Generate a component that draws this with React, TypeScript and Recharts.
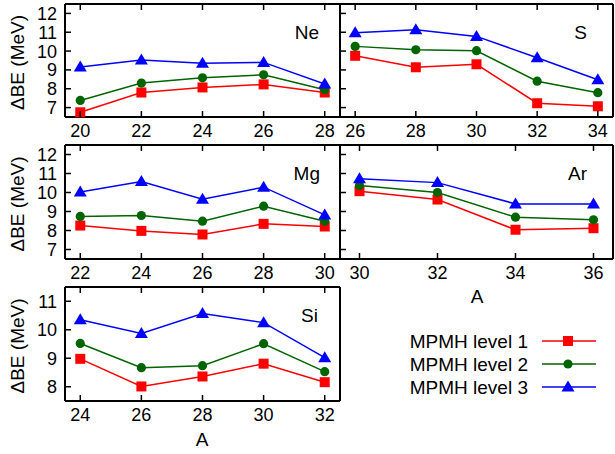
import React from "react";
import { LineChart, Line, XAxis, YAxis } from "recharts";

const W = 615;
const H = 454;
const FONT = "'Liberation Sans', Arial, Helvetica, sans-serif";

// A values and ΔBE (MeV) per MPMH level
const neA = [20, 22, 24, 26, 28];
const neL1 = [6.75, 7.8, 8.07, 8.23, 7.8];
const neL2 = [7.38, 8.3, 8.58, 8.74, 7.95];
const neL3 = [9.15, 9.52, 9.35, 9.4, 8.25];

const sA = [26, 28, 30, 32, 34];
const sL1 = [9.75, 9.14, 9.3, 7.23, 7.07];
const sL2 = [10.25, 10.07, 10.02, 8.4, 7.79];
const sL3 = [10.97, 11.13, 10.78, 9.65, 8.48];

const mgA = [22, 24, 26, 28, 30];
const mgL1 = [8.26, 7.98, 7.79, 8.35, 8.21];
const mgL2 = [8.74, 8.79, 8.49, 9.28, 8.49];
const mgL3 = [10.03, 10.58, 9.65, 10.28, 8.82];

const arA = [30, 32, 34, 36];
const arL1 = [10.07, 9.63, 8.04, 8.12];
const arL2 = [10.37, 10.0, 8.7, 8.56];
const arL3 = [10.73, 10.52, 9.4, 9.4];

const siA = [24, 26, 28, 30, 32];
const siL1 = [8.98, 8.01, 8.36, 8.81, 8.16];
const siL2 = [9.52, 8.67, 8.74, 9.51, 8.53];
const siL3 = [10.35, 9.87, 10.57, 10.25, 9.02];

const yTicksBig = [7, 8, 9, 10, 11, 12];
const yTicksSi = [8, 9, 10, 11];

const levels = ["MPMH level 1", "MPMH level 2", "MPMH level 3"];
const RED = "#ff0000";
const GREEN = "#006400";
const BLUE = "#0000ff";

const rows = (a: number[], l1: number[], l2: number[], l3: number[]) =>
  a.map((v, i) => ({ A: v, l1: l1[i], l2: l2[i], l3: l3[i] }));

interface Panel {
  name: string;
  data: { A: number; l1: number; l2: number; l3: number }[];
  box: [number, number, number, number]; // left, top, right, bottom
  xDomain: [number, number];
  yDomain: [number, number];
  yTicks: number[];
  leftLabels: boolean;
  labelDx: number;
}

const panels: Panel[] = [
  { name: "Ne", data: rows(neA, neL1, neL2, neL3), box: [65, 4, 340, 117], xDomain: [19.5, 28.5], yDomain: [6.5, 12.5], yTicks: yTicksBig, leftLabels: true, labelDx: 21 },
  { name: "S", data: rows(sA, sL1, sL2, sL3), box: [340, 4, 613, 117], xDomain: [25.5, 34.5], yDomain: [6.5, 12.5], yTicks: yTicksBig, leftLabels: false, labelDx: 26 },
  { name: "Mg", data: rows(mgA, mgL1, mgL2, mgL3), box: [65, 145, 340, 259], xDomain: [21.5, 30.5], yDomain: [6.5, 12.5], yTicks: yTicksBig, leftLabels: true, labelDx: 20 },
  { name: "Ar", data: rows(arA, arL1, arL2, arL3), box: [340, 145, 613, 259], xDomain: [29.5, 36.5], yDomain: [6.5, 12.5], yTicks: yTicksBig, leftLabels: false, labelDx: 26 },
  { name: "Si", data: rows(siA, siL1, siL2, siL3), box: [65, 287, 340, 401], xDomain: [23.5, 32.5], yDomain: [7.5, 11.5], yTicks: yTicksSi, leftLabels: true, labelDx: 22 },
];

const txt = { fontFamily: FONT, fontSize: 19, fill: "#000" };
const tickTxt = { fontFamily: FONT, fontSize: 18, fill: "#000" };
const TL = 6;

const BottomTick = (p: any) => (
  <g>
    <line x1={p.x} x2={p.x} y1={p.y} y2={p.y - TL} stroke="#000" strokeWidth={1.5} />
    <text x={p.x} y={p.y + 20} textAnchor="middle" {...tickTxt}>{p.payload.value}</text>
  </g>
);
const TopTick = (p: any) => (
  <line x1={p.x} x2={p.x} y1={p.y} y2={p.y + TL} stroke="#000" strokeWidth={1.5} />
);
const LeftTick = (show: boolean) => (p: any) => (
  <g>
    <line x1={p.x} x2={p.x + TL} y1={p.y} y2={p.y} stroke="#000" strokeWidth={1.5} />
    {show && (
      <text x={p.x - 8} y={p.y + 6.5} textAnchor="end" {...tickTxt}>{p.payload.value}</text>
    )}
  </g>
);
const RightTick = (p: any) => (
  <line x1={p.x} x2={p.x - TL} y1={p.y} y2={p.y} stroke="#000" strokeWidth={1.5} />
);

const Square = (p: any) => (
  <rect key={`s${p.index}`} x={p.cx - 5} y={p.cy - 5} width={10} height={10} fill={RED} />
);
const Circle = (p: any) => (
  <circle key={`c${p.index}`} cx={p.cx} cy={p.cy} r={4.6} fill={GREEN} />
);
const Triangle = (p: any) => (
  <polygon
    key={`t${p.index}`}
    points={`${p.cx},${p.cy - 6.5} ${p.cx - 6.5},${p.cy + 4.5} ${p.cx + 6.5},${p.cy + 4.5}`}
    fill={BLUE}
  />
);

function PanelChart({ panel }: { panel: Panel }) {
  const [l, t, r, b] = panel.box;
  const ticksX = panel.data.map((d) => d.A);
  const axisLine = { stroke: "#000", strokeWidth: 2 };
  return (
    <div style={{ position: "absolute", left: 0, top: 0 }}>
      <LineChart
        width={W}
        height={H}
        data={panel.data}
        margin={{ left: l - 1, top: t - 1, right: W - r - 1, bottom: H - b - 1 }}
      >
        <XAxis type="number" dataKey="A" domain={panel.xDomain} ticks={ticksX} height={1}
          tickSize={0} tickMargin={0} interval={0} axisLine={axisLine} tick={BottomTick} />
        <XAxis xAxisId="top" orientation="top" type="number" dataKey="A" domain={panel.xDomain}
          ticks={ticksX} height={1} tickSize={0} tickMargin={0} interval={0} axisLine={axisLine} tick={TopTick} />
        <YAxis type="number" domain={panel.yDomain} ticks={panel.yTicks} width={1}
          tickSize={0} tickMargin={0} interval={0} axisLine={axisLine} tick={LeftTick(panel.leftLabels)} />
        <YAxis yAxisId="right" orientation="right" type="number" domain={panel.yDomain}
          ticks={panel.yTicks} width={1} tickSize={0} tickMargin={0} interval={0} axisLine={axisLine} tick={RightTick} />
        <Line type="linear" dataKey="l1" name={levels[0]} stroke={RED} strokeWidth={1.5}
          dot={Square} activeDot={false} isAnimationActive={false} />
        <Line type="linear" dataKey="l2" name={levels[1]} stroke={GREEN} strokeWidth={1.5}
          dot={Circle} activeDot={false} isAnimationActive={false} />
        <Line type="linear" dataKey="l3" name={levels[2]} stroke={BLUE} strokeWidth={1.5}
          dot={Triangle} activeDot={false} isAnimationActive={false} />
      </LineChart>
    </div>
  );
}

export default function App() {
  const legendY = [341, 364, 387];
  const legendColors = [RED, GREEN, BLUE];
  return (
    <div style={{ position: "absolute", left: 0, top: 0, width: W, height: H, background: "#fff" }}>
      {panels.map((p) => (
        <PanelChart key={p.name} panel={p} />
      ))}
      <svg width={W} height={H} style={{ position: "absolute", left: 0, top: 0, pointerEvents: "none" }}>
        {panels.map((p) => (
          <text key={p.name} x={p.box[2] - p.labelDx} y={p.box[1] + 35} textAnchor="end" {...txt}>
            {p.name}
          </text>
        ))}
        {panels.filter((p) => p.leftLabels).map((p) => {
          const cy = (p.box[1] + p.box[3]) / 2 + 2;
          return (
            <text key={p.name} x={24} y={cy} transform={`rotate(-90, 24, ${cy})`} textAnchor="middle" {...txt}>
              ΔBE (MeV)
            </text>
          );
        })}
        <text x={202} y={446} textAnchor="middle" {...txt}>A</text>
        <text x={477} y={303} textAnchor="middle" {...txt}>A</text>
        {levels.map((name, i) => (
          <g key={name}>
            <text x={528} y={legendY[i] + 7} textAnchor="end" {...txt}>{name}</text>
            <line x1={542} x2={596} y1={legendY[i]} y2={legendY[i]} stroke={legendColors[i]} strokeWidth={1.5} />
            {i === 0 && Square({ cx: 568, cy: legendY[i], index: 99 })}
            {i === 1 && Circle({ cx: 568, cy: legendY[i], index: 99 })}
            {i === 2 && Triangle({ cx: 568, cy: legendY[i], index: 99 })}
          </g>
        ))}
      </svg>
    </div>
  );
}
